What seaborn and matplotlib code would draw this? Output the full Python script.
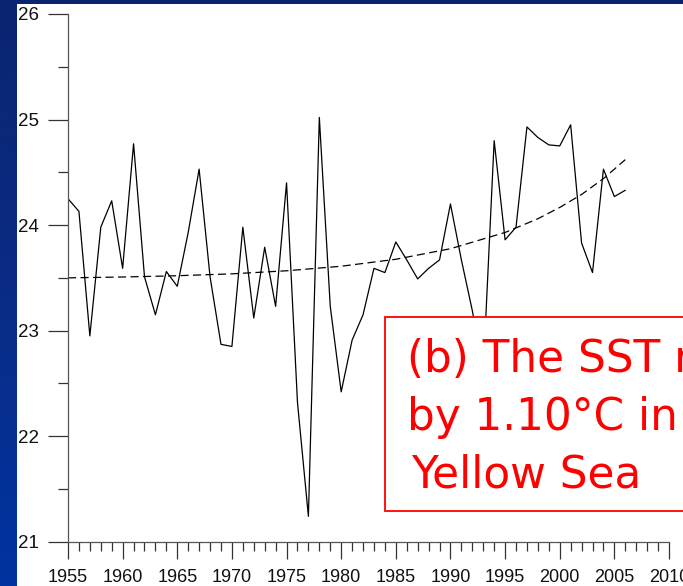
import numpy as np
import pandas as pd
import matplotlib
matplotlib.use("Agg")
import matplotlib.pyplot as plt
from matplotlib.patches import Rectangle
from matplotlib.colors import LinearSegmentedColormap
import seaborn as sns

# Annual mean SST (deg C), southern Yellow Sea
years = list(range(1955, 2007))
sst = [24.25, 24.13, 22.95, 23.98, 24.23, 23.59, 24.77, 23.51, 23.15, 23.56,
       23.42, 23.93, 24.53, 23.51, 22.87, 22.85, 23.98, 23.12, 23.79, 23.23,
       24.40, 22.32, 21.24, 25.02, 23.23, 22.42, 22.91, 23.15, 23.59, 23.55,
       23.84, 23.67, 23.49, 23.59, 23.67, 24.20, 23.67, 23.19, 22.61, 24.80,
       23.86, 23.98, 24.93, 24.83, 24.76, 24.75, 24.95, 23.83, 23.55, 24.53,
       24.27, 24.33]

# Long-term trend curve
trend_years = [1955, 1960, 1965, 1970, 1975, 1980, 1985, 1990, 1995, 1998,
               2000, 2002, 2004, 2006]
trend_sst = [23.50, 23.508, 23.52, 23.538, 23.567, 23.61, 23.676, 23.776, 23.93,
             24.06, 24.167, 24.29, 24.44, 24.62]

y_ticks = [21, 22, 23, 24, 25, 26]
x_ticks = list(range(1955, 2011, 5))

annotation = ["(b) The SST rose", "by 1.10\u00b0C in southern", "Yellow Sea"]

sns.set_style("white")
plt.rcParams["font.family"] = ["Liberation Sans", "DejaVu Sans"]

W, H = 683, 586
fig = plt.figure(figsize=(W / 100, H / 100), dpi=100)
fig.patch.set_facecolor("white")

# Blue slide frame: gradient strip on the left and a thin band on top
blue = LinearSegmentedColormap.from_list("frame", ["#0a2470", "#0a2c86", "#0033a0"])
grad = np.linspace(0, 1, 256).reshape(-1, 1)
ax_strip = fig.add_axes([0, 0, 17 / W, 1])
ax_strip.imshow(grad, aspect="auto", cmap=blue, origin="upper")
ax_strip.set_axis_off()
ax_top = fig.add_axes([0, 1 - 4 / H, 1, 4 / H])
ax_top.set_facecolor("#0a2470")
ax_top.set_xticks([]); ax_top.set_yticks([])
for s in ax_top.spines.values():
    s.set_visible(False)

ax = fig.add_axes([68 / W, 1 - 541.7 / H, (669 - 68) / W, (541.7 - 14) / H])
ax.set_facecolor("none")

df = pd.DataFrame({"year": years, "sst": sst})
tr = pd.DataFrame({"year": trend_years, "sst": trend_sst})
sns.lineplot(data=df, x="year", y="sst", ax=ax, color="black", linewidth=0.9)
sns.lineplot(data=tr, x="year", y="sst", ax=ax, color="black", linewidth=0.9,
             linestyle=(0, (6.5, 3.5)))

ax.set_xlim(1955, 2010)
ax.set_ylim(21, 26)
ax.set_xlabel("")
ax.set_ylabel("")
ax.set_xticks(x_ticks)
ax.set_xticklabels([str(v) for v in x_ticks])
ax.set_xticks(years + [2007, 2008, 2009], minor=True)
ax.set_yticks(y_ticks)
ax.set_yticklabels([str(v) for v in y_ticks])
ax.set_yticks(np.arange(21.5, 26, 1.0), minor=True)

for side in ("top", "right"):
    ax.spines[side].set_visible(False)
for side in ("left", "bottom"):
    ax.spines[side].set_color("#555555")
    ax.spines[side].set_linewidth(0.9)

ax.tick_params(axis="both", which="both", bottom=True, left=True,
               top=False, right=False)
ax.tick_params(axis="x", which="major", direction="out", length=12.5, width=0.9,
               color="#333333", labelsize=13, pad=7, labelcolor="#111111")
ax.tick_params(axis="x", which="minor", direction="out", length=6.7, width=0.9,
               color="#333333")
ax.tick_params(axis="y", which="major", direction="out", length=14.5, width=0.9,
               color="#333333", labelsize=13.5, pad=6.5, labelcolor="#111111")
ax.tick_params(axis="y", which="minor", direction="out", length=7.5, width=0.9,
               color="#333333")
for lab in ax.get_xticklabels() + ax.get_yticklabels():
    lab.set_clip_on(False)

# Red annotation box running off the right edge
fig.patches.append(Rectangle((385 / W, 1 - 510.7 / H), (720 - 385) / W,
                             (510.7 - 316.7) / H, transform=fig.transFigure,
                             facecolor="white", edgecolor="#ff0000",
                             linewidth=1.3, zorder=5))
for line, base, x0 in zip(annotation, (372, 430, 488), (407, 407, 411)):
    fig.text(x0 / W, 1 - base / H, line, color="#ff0000", fontsize=31.5,
             family=["DejaVu Sans"], va="baseline", ha="left", zorder=6)

fig.savefig("out.png", dpi=100)
